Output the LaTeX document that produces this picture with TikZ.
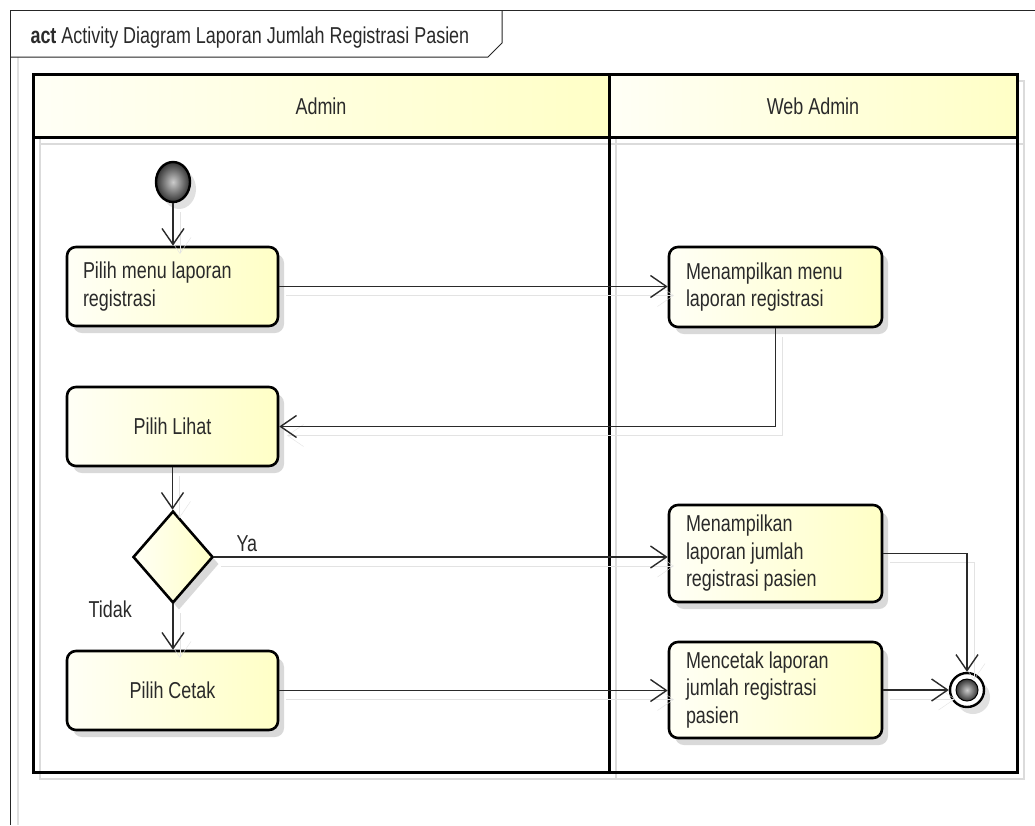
\documentclass[tikz,border=0pt]{standalone}
\usepackage{fontspec}
\newfontfamily\umlfont[FakeStretch=0.78]{Liberation Sans}
\usetikzlibrary{arrows.meta,shapes.geometric}
\definecolor{laneyellow}{HTML}{FFFFC6}
\definecolor{lanewhite}{HTML}{FFFFF6}
\definecolor{ink}{HTML}{2A2A2A}

\begin{document}
\begin{tikzpicture}[x=1pt,y=-1pt,
  every node/.style={font=\umlfont\fontsize{23}{27.5}\selectfont, text=ink,
    execute at begin node={\spaceskip=0pt\xspaceskip=0pt\relax}},
  boxshadow/.style={preaction={fill=black!15, draw=none, transform canvas={shift={(6pt,-7pt)}}}},
  action/.style={draw=black, line width=2.6pt, rounded corners=9pt,
    left color=lanewhite, right color=laneyellow, inner sep=0pt,
    text width=179pt, align=left, boxshadow},
  flow/.style={draw=ink, line width=1.4pt,
    -{Straight Barb[length=16pt,width=22pt]},
    preaction={draw=black!11, transform canvas={shift={(7pt,-9pt)}}}},
  lanetitle/.style={anchor=center},
  guard/.style={anchor=base west},
]
\useasboundingbox (0,0) rectangle (1035,825);
\fill[white] (0,0) rectangle (1035,825);

% diagram frame with its name tab
\draw[black!12, line width=1.2pt] (18,57) -- (18,825);
\draw[black!85, line width=1pt] (10,825) -- (10,10) -- (1035,10);
\draw[black!85, line width=1pt] (10,57) -- (488,57) -- (502,43) -- (502,10);
\node[anchor=base west] (title) at (27,43)
  {\textbf{act} Activity Diagram Laporan Jumlah Registrasi Pasien};

% swimlanes: shadow, header shading, borders
\begin{scope}[shift={(7,7)}, black!14, line width=2.5pt]
  \draw (33,74) rectangle (1017,772);
  \draw (33,137) -- (1017,137);
  \draw (609,74) -- (609,772);
\end{scope}
\shade[left color=lanewhite, right color=laneyellow] (33,74) rectangle (609,137);
\shade[left color=lanewhite, right color=laneyellow] (609,74) rectangle (1017,137);
\draw[black, line width=3pt] (33,74) rectangle (1017,772);
\draw[black, line width=3pt] (33,137) -- (1017,137);
\draw[black, line width=3pt] (609,74) -- (609,772);
\node[lanetitle] (laneA) at (321,106) {Admin};
\node[lanetitle] (laneW) at (813,106) {Web Admin};

% initial node
\node[ellipse, draw=black, line width=2.4pt, minimum width=34pt, minimum height=40pt,
  inner color=gray!40, outer color=black!80,
  preaction={fill=black!12, transform canvas={shift={(6pt,-7pt)}}}]
  (start) at (173,182) {};

% actions
\node[action, minimum width=211pt, minimum height=79pt] (box1) at (172.5,286.5)
  {Pilih menu laporan\\registrasi};
\node[action, minimum width=213pt, minimum height=80pt] (box2) at (775.5,287)
  {Menampilkan menu\\laporan registrasi};
\node[action, minimum width=211pt, minimum height=79pt] (box3) at (172.5,426.5)
  {\makebox[179pt]{Pilih Lihat}};
\node[diamond, draw=black, line width=2.6pt, inner sep=0pt,
  minimum width=80pt, minimum height=92pt,
  left color=lanewhite, right color=laneyellow, boxshadow]
  (dec) at (173,557) {};
\node[action, minimum width=213pt, minimum height=97pt] (box4) at (775.5,553.5)
  {Menampilkan\\laporan jumlah\\registrasi pasien};
\node[action, minimum width=211pt, minimum height=79pt] (box5) at (172.5,690.5)
  {\makebox[179pt]{Pilih Cetak}};
\node[action, minimum width=213pt, minimum height=96pt] (box6) at (775.5,690)
  {Mencetak laporan\\jumlah registrasi\\pasien};

% final node
\node[circle, draw=black, line width=2.4pt, fill=white, inner sep=0pt, minimum size=34pt,
  preaction={fill=black!12, transform canvas={shift={(6pt,-7pt)}}}]
  (end) at (967,690) {};
\node[circle, draw=black, line width=1pt, inner sep=0pt, minimum size=22pt,
  inner color=gray!40, outer color=black!80] (endDot) at (end.center) {};

% guards
\node[guard] (ya) at (233,551) {Ya};
\node[guard] (tidak) at (85,617) {Tidak};

% control flows
\draw[flow] (start.south) -- (start.south |- box1.north);
\draw[flow] (box1.east) -- (box1.east -| box2.west);
\draw[flow] (box2.south) |- (box3.east);
\draw[flow] (box3.south) -- (box3.south |- dec.north);
\draw[flow] (dec.east) -- (dec.east -| box4.west);
\draw[flow] (dec.south) -- (dec.south |- box5.north);
\draw[flow] (box4.east) -| (end.north);
\draw[flow] (box5.east) -- (box5.east -| box6.west);
\draw[flow] (box6.east) -- (end.west);
\end{tikzpicture}
\end{document}
